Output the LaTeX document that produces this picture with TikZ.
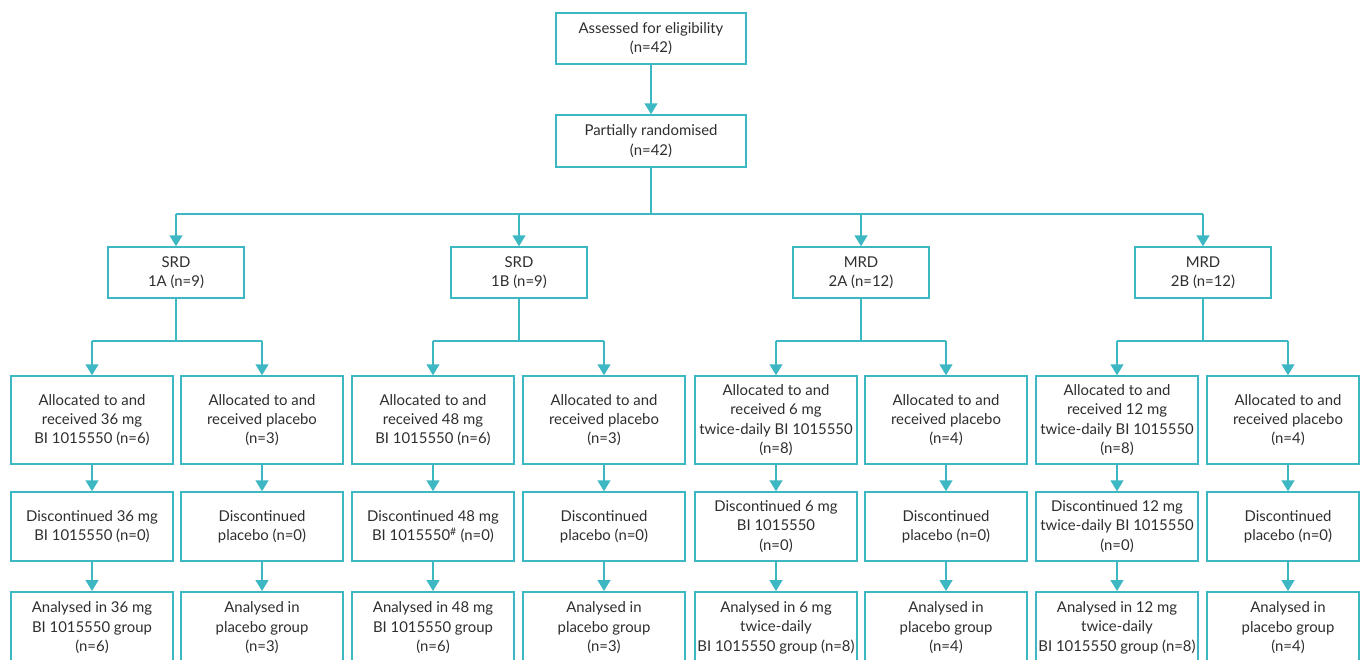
\documentclass[tikz,border=0pt]{standalone}
\usepackage{fontspec}
\setmainfont{Lato}
\usetikzlibrary{arrows.meta,calc}
\definecolor{teal1}{HTML}{3DB8C2}
\definecolor{txt}{HTML}{2E2E2E}
\begin{document}
\begin{tikzpicture}[x=1pt,y=-1pt,
  box/.style={draw=teal1,line width=1.5pt,fill=white,inner sep=0pt,align=center,
    text=txt,font=\fontsize{14.9pt}{19.3pt}\selectfont},
  lbox/.style={box,minimum width=162pt,minimum height=88pt},
  dbox/.style={box,minimum width=162pt,minimum height=69pt},
  nbox/.style={box,minimum width=162pt,minimum height=72pt,anchor=north},
  gbox/.style={box,minimum width=136pt,minimum height=51pt},
  tbox/.style={box,minimum width=190pt,minimum height=51pt},
  conn/.style={draw=teal1,line width=1.5pt},
  arr/.style={conn,-{Triangle[width=13pt,length=11pt]}}]
\useasboundingbox (0,0) rectangle (1360,659);
\clip (0,0) rectangle (1360,659);
\fill[white] (0,0) rectangle (1360,659);
% top
\node[tbox] (elig) at (651,38.5) {Assessed for eligibility\\(n=42)};
\node[tbox,minimum height=52pt] (rand) at (651,141) {Partially randomised\\(n=42)};
\draw[arr] (elig) -- (rand);
% groups
\node[gbox] (g1) at (176,272.5) {SRD\\1A (n=9)};
\node[gbox] (g2) at (519,272.5) {SRD\\1B (n=9)};
\node[gbox] (g3) at (861,272.5) {MRD\\2A (n=12)};
\node[gbox] (g4) at (1203,272.5) {MRD\\2B (n=12)};
\coordinate (bus) at (651,214);
\draw[conn] (rand.south) -- (bus);
\draw[conn] (g1.north |- bus) -- (g4.north |- bus);
\foreach \g in {g1,g2,g3,g4} \draw[arr] (\g.north |- bus) -- (\g.north);
% columns
\foreach \i/\x in {1/92,2/262,3/433,4/604,5/776,6/946,7/1117,8/1288}
  \coordinate (x\i) at (\x,376);
% allocated row
\node[lbox] (a1) at (92,420) {Allocated to and\\received 36 mg\\BI 1015550 (n=6)};
\node[lbox] (a2) at (262,420) {Allocated to and\\received placebo\\(n=3)};
\node[lbox] (a3) at (433,420) {Allocated to and\\received 48 mg\\BI 1015550 (n=6)};
\node[lbox] (a4) at (604,420) {Allocated to and\\received placebo\\(n=3)};
\node[lbox] (a5) at (776,420) {Allocated to and\\received 6 mg\\twice-daily BI 1015550\\(n=8)};
\node[lbox] (a6) at (946,420) {Allocated to and\\received placebo\\(n=4)};
\node[lbox] (a7) at (1117,420) {Allocated to and\\received 12 mg\\twice-daily BI 1015550\\(n=8)};
\node[box,minimum width=152pt,minimum height=88pt] (a8) at (1283,420) {\hspace*{10pt}Allocated to and\\\hspace*{10pt}received placebo\\\hspace*{10pt}(n=4)};
% discontinued row
\node[dbox] (d1) at (92,526.5) {Discontinued 36 mg\\BI 1015550 (n=0)};
\node[dbox] (d2) at (262,526.5) {Discontinued\\placebo (n=0)};
\node[dbox] (d3) at (433,526.5) {Discontinued 48 mg\\BI 1015550\textsuperscript{\#} (n=0)};
\node[dbox] (d4) at (604,526.5) {Discontinued\\placebo (n=0)};
\node[dbox] (d5) at (776,526.5) {Discontinued 6 mg\\BI 1015550\\(n=0)};
\node[dbox] (d6) at (946,526.5) {Discontinued\\placebo (n=0)};
\node[dbox] (d7) at (1117,526.5) {Discontinued 12 mg\\twice-daily BI 1015550\\(n=0)};
\node[box,minimum width=152pt,minimum height=69pt] (d8) at (1283,526.5) {\hspace*{10pt}Discontinued\\\hspace*{10pt}placebo (n=0)};
% analysed row (cropped at bottom)
\node[nbox] (n1) at (92,591) {Analysed in 36 mg\\BI 1015550 group\\(n=6)};
\node[nbox] (n2) at (262,591) {Analysed in\\placebo group\\(n=3)};
\node[nbox] (n3) at (433,591) {Analysed in 48 mg\\BI 1015550 group\\(n=6)};
\node[nbox] (n4) at (604,591) {Analysed in\\placebo group\\(n=3)};
\node[nbox] (n5) at (776,591) {Analysed in 6 mg\\twice-daily\\BI 1015550 group (n=8)};
\node[nbox] (n6) at (946,591) {Analysed in\\placebo group\\(n=4)};
\node[nbox] (n7) at (1117,591) {Analysed in 12 mg\\twice-daily\\BI 1015550 group (n=8)};
\node[nbox,minimum width=152pt] (n8) at (1283,591) {\hspace*{10pt}Analysed in\\\hspace*{10pt}placebo group\\\hspace*{10pt}(n=4)};
% group splits
\foreach \g/\l/\r in {g1/1/2,g2/3/4,g3/5/6,g4/7/8}{
  \coordinate (s\g) at ($(\g.south)+(0,42)$);
  \draw[conn] (\g.south) -- (s\g);
  \draw[conn] (x\l |- s\g) -- (x\r |- s\g);
  \draw[arr] (x\l |- s\g) -- (x\l |- a\l.north);
  \draw[arr] (x\r |- s\g) -- (x\r |- a\r.north);
}
% vertical flows
\foreach \i in {1,...,8}{
  \draw[arr] (x\i |- a\i.south) -- (x\i |- d\i.north);
  \draw[arr] (x\i |- d\i.south) -- (x\i |- n\i.north);
}
\end{tikzpicture}
\end{document}
